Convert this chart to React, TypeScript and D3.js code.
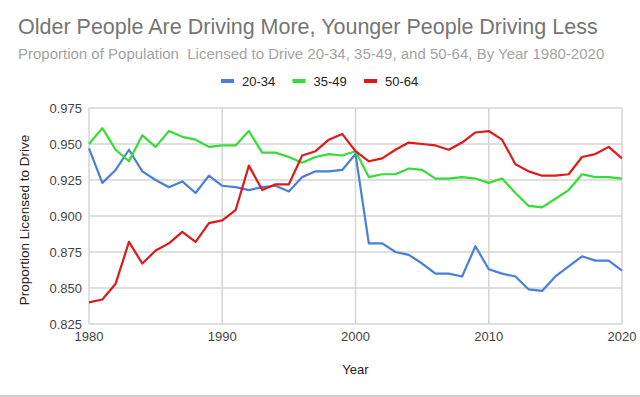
import React, { useEffect, useRef } from "react";
import * as d3 from "d3";

const years: number[] = d3.range(1980, 2021);

const age2034: number[] = [
  0.947, 0.923, 0.932, 0.946, 0.931, 0.925, 0.920, 0.924, 0.916, 0.928,
  0.921, 0.920, 0.918, 0.920, 0.921, 0.917, 0.927, 0.931, 0.931, 0.932,
  0.943, 0.881, 0.881, 0.875, 0.873, 0.867, 0.860, 0.860, 0.858, 0.879,
  0.863, 0.860, 0.858, 0.849, 0.848, 0.858, 0.865, 0.872, 0.869, 0.869,
  0.862
];

const age3549: number[] = [
  0.950, 0.961, 0.946, 0.938, 0.956, 0.948, 0.959, 0.955, 0.953, 0.948,
  0.949, 0.949, 0.959, 0.944, 0.944, 0.941, 0.937, 0.941, 0.943, 0.942,
  0.945, 0.927, 0.929, 0.929, 0.933, 0.932, 0.926, 0.926, 0.927, 0.926,
  0.923, 0.926, 0.916, 0.907, 0.906, 0.912, 0.918, 0.929, 0.927, 0.927,
  0.926
];

const age5064: number[] = [
  0.840, 0.842, 0.853, 0.882, 0.867, 0.876, 0.881, 0.889, 0.882, 0.895,
  0.897, 0.904, 0.935, 0.918, 0.922, 0.922, 0.942, 0.945, 0.953, 0.957,
  0.945, 0.938, 0.940, 0.946, 0.951, 0.950, 0.949, 0.946, 0.951, 0.958,
  0.959, 0.953, 0.936, 0.931, 0.928, 0.928, 0.929, 0.941, 0.943, 0.948,
  0.940
];

const seriesNames: string[] = ["20-34", "35-49", "50-64"];
const seriesColors: string[] = ["#4a7fd8", "#33dd33", "#dd1a1a"];
const yTicks: number[] = [0.825, 0.85, 0.875, 0.9, 0.925, 0.95, 0.975];
const xTicks: number[] = [1980, 1990, 2000, 2010, 2020];

const W = 640;
const H = 397;

const App: React.FC = () => {
  const svgRef = useRef<SVGSVGElement | null>(null);

  useEffect(() => {
    if (!svgRef.current) return;
    const svg = d3.select(svgRef.current);
    svg.selectAll("*").remove();

    const margin = { top: 108, right: 18, bottom: 73, left: 89 };
    const innerW = W - margin.left - margin.right;
    const innerH = H - margin.top - margin.bottom;
    const font = "'Liberation Sans', Arial, sans-serif";

    svg.append("rect").attr("width", W).attr("height", H).attr("fill", "#fff");

    // titles
    svg.append("text")
      .attr("x", 18).attr("y", 34)
      .attr("font-family", font).attr("font-size", 21.5)
      .attr("fill", "#757575")
      .text("Older People Are Driving More, Younger People Driving Less");

    svg.append("text")
      .attr("x", 18).attr("y", 59)
      .attr("font-family", font).attr("font-size", 15)
      .attr("fill", "#a3a3a3")
      .text("Proportion of Population  Licensed to Drive 20-34, 35-49, and 50-64, By Year 1980-2020")
      .style("white-space", "pre");

    // legend
    const legendX = [221, 292.5, 364];
    seriesNames.forEach((name, i) => {
      const lg = svg.append("g").attr("transform", `translate(${legendX[i]},81)`);
      lg.append("rect").attr("x", 0).attr("y", -2).attr("width", 13).attr("height", 4)
        .attr("fill", seriesColors[i]);
      lg.append("text").attr("x", 21).attr("y", 5)
        .attr("font-family", font).attr("font-size", 13).attr("fill", "#222")
        .text(name);
    });

    const x = d3.scaleLinear().domain([1980, 2020]).range([0, innerW]);
    const y = d3.scaleLinear().domain([0.825, 0.975]).range([innerH, 0]);

    const g = svg.append("g").attr("transform", `translate(${margin.left},${margin.top})`);

    // grid
    g.selectAll(".hgrid").data(yTicks).enter().append("line")
      .attr("x1", 0).attr("x2", innerW)
      .attr("y1", d => y(d)).attr("y2", d => y(d))
      .attr("stroke", "#d4d4d4").attr("stroke-width", 1.5);

    g.selectAll(".vgrid").data(xTicks).enter().append("line")
      .attr("y1", 0).attr("y2", innerH)
      .attr("x1", d => x(d)).attr("x2", d => x(d))
      .attr("stroke", "#d4d4d4").attr("stroke-width", 1.5);

    // tick labels
    g.selectAll(".ylab").data(yTicks).enter().append("text")
      .attr("x", -7).attr("y", d => y(d) + 4.5)
      .attr("text-anchor", "end")
      .attr("font-family", font).attr("font-size", 13).attr("fill", "#444")
      .text(d => d3.format(".3f")(d));

    g.selectAll(".xlab").data(xTicks).enter().append("text")
      .attr("x", d => x(d)).attr("y", innerH + 17)
      .attr("text-anchor", "middle")
      .attr("font-family", font).attr("font-size", 13).attr("fill", "#444")
      .text(d => String(d));

    // axis titles
    g.append("text")
      .attr("x", innerW / 2).attr("y", innerH + 50)
      .attr("text-anchor", "middle")
      .attr("font-family", font).attr("font-size", 13).attr("fill", "#222")
      .text("Year");

    g.append("text")
      .attr("transform", "rotate(-90)")
      .attr("x", -innerH / 2 - 4).attr("y", -60)
      .attr("text-anchor", "middle")
      .attr("font-family", font).attr("font-size", 13.5).attr("fill", "#222")
      .text("Proportion Licensed to Drive");

    // lines
    const allSeries = [age2034, age3549, age5064];
    const line = d3.line<number>()
      .x((_, i) => x(years[i]))
      .y(d => y(d));

    allSeries.forEach((vals, i) => {
      g.append("path")
        .datum(vals)
        .attr("d", line)
        .attr("fill", "none")
        .attr("stroke", seriesColors[i])
        .attr("stroke-width", 2.2)
        .attr("stroke-linejoin", "round");
    });

    // bottom frame line
    svg.append("line")
      .attr("x1", 0).attr("x2", W).attr("y1", H - 1).attr("y2", H - 1)
      .attr("stroke", "#bdbdbd").attr("stroke-width", 1.5);
  }, []);

  return (
    <svg
      ref={svgRef}
      width={W}
      height={H}
      style={{ position: "absolute", left: 0, top: 0, display: "block" }}
    />
  );
};

export default App;
